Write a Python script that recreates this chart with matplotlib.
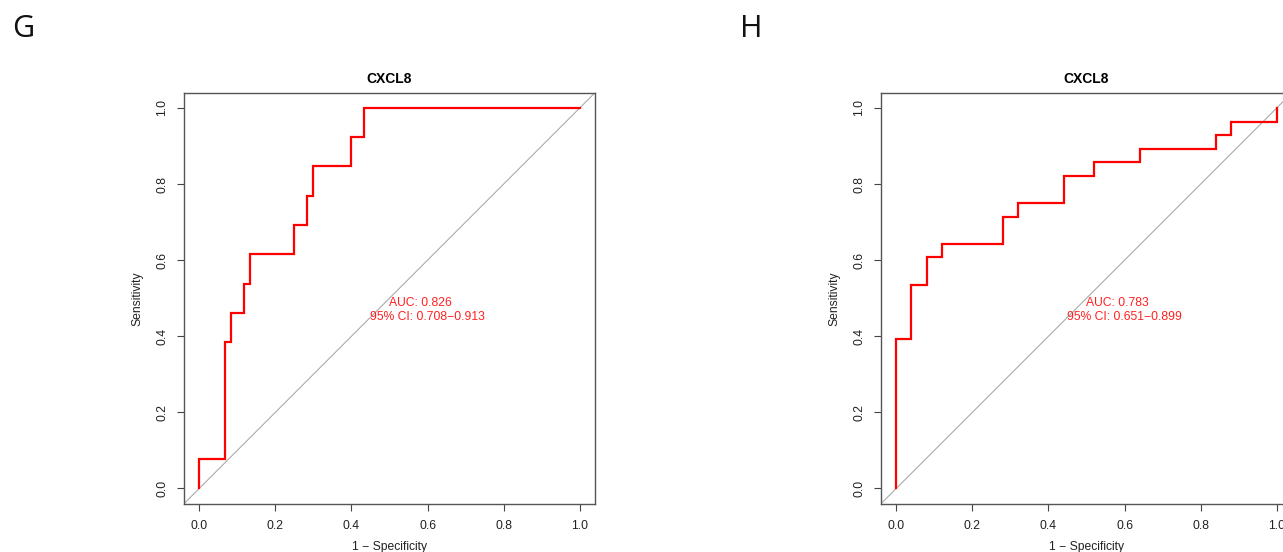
import numpy as np
import matplotlib
matplotlib.use('Agg')
import matplotlib.pyplot as plt

plt.rcParams['font.family'] = ['Liberation Sans', 'DejaVu Sans']

# ROC step points (1 - specificity, sensitivity)
fprG = [0.0, 0.0, 0.0667, 0.0667, 0.0833, 0.0833, 0.1167, 0.1167, 0.1333, 0.1333,
        0.25, 0.25, 0.2833, 0.2833, 0.30, 0.30, 0.40, 0.40, 0.4333, 0.4333, 1.0]
tprG = [0.0, 0.0769, 0.0769, 0.3846, 0.3846, 0.4615, 0.4615, 0.5385, 0.5385, 0.6154,
        0.6154, 0.6923, 0.6923, 0.7692, 0.7692, 0.8462, 0.8462, 0.9231, 0.9231, 1.0, 1.0]

fprH = [0.0, 0.0, 0.04, 0.04, 0.08, 0.08, 0.12, 0.12, 0.28, 0.28, 0.32, 0.32,
        0.44, 0.44, 0.52, 0.52, 0.64, 0.64, 0.84, 0.84, 0.88, 0.88, 1.0, 1.0]
tprH = [0.0, 0.3929, 0.3929, 0.5357, 0.5357, 0.6071, 0.6071, 0.6429, 0.6429, 0.7143,
        0.7143, 0.75, 0.75, 0.8214, 0.8214, 0.8571, 0.8571, 0.8929, 0.8929, 0.9286,
        0.9286, 0.9643, 0.9643, 1.0]

panels = ['G', 'H']
titles = ['CXCL8', 'CXCL8']
aucs = ['AUC: 0.826', 'AUC: 0.783']
cis = ['95% CI: 0.708\u22120.913', '95% CI: 0.651\u22120.899']
ticks = [0.0, 0.2, 0.4, 0.6, 0.8, 1.0]

W, H = 1283, 552
fig = plt.figure(figsize=(W / 100, H / 100), dpi=100)

lefts = [184, 881]
letter_x = [12, 740]
curves = [(fprG, tprG), (fprH, tprH)]

for i in range(2):
    ax = fig.add_axes([lefts[i] / W, (H - 503.7) / H, 411 / W, 411 / H])
    x, y = curves[i]
    ax.plot([-0.04, 1.04], [-0.04, 1.04], color='#aaaaaa', lw=0.8, zorder=1)
    ax.plot(x, y, color='#ff0000', lw=1.6, zorder=2, solid_joinstyle='miter')
    ax.set_xlim(-0.04, 1.04)
    ax.set_ylim(-0.04, 1.04)
    ax.set_xticks(ticks)
    ax.set_yticks(ticks)
    ax.set_xticklabels(['%.1f' % t for t in ticks])
    ax.set_yticklabels(['%.1f' % t for t in ticks], rotation=90, va='center')
    ax.tick_params(direction='out', length=5, width=0.8, color='#444444',
                   labelsize=8.7, labelcolor='#222222', pad=6.5)
    for s in ax.spines.values():
        s.set_color('#555555')
        s.set_linewidth(1.0)
    ax.set_xlabel('1 \u2212 Specificity', fontsize=8.7, color='#222222', labelpad=7)
    ax.set_ylabel('Sensitivity', fontsize=8.7, color='#222222', labelpad=9)
    ax.set_title(titles[i], fontsize=10, fontweight='bold', pad=7)
    ax.text(0.58, 0.488, aucs[i], color='#ff2020', fontsize=8.7, ha='center', va='center')
    ax.text(0.60, 0.45, cis[i], color='#ff2020', fontsize=8.7, ha='center', va='center')
    fig.text(letter_x[i] / W, 1 - 29 / H, panels[i], fontsize=22, family='Open Sans',
             ha='left', va='center', color='#111111')

fig.savefig('out.png', dpi=100)
